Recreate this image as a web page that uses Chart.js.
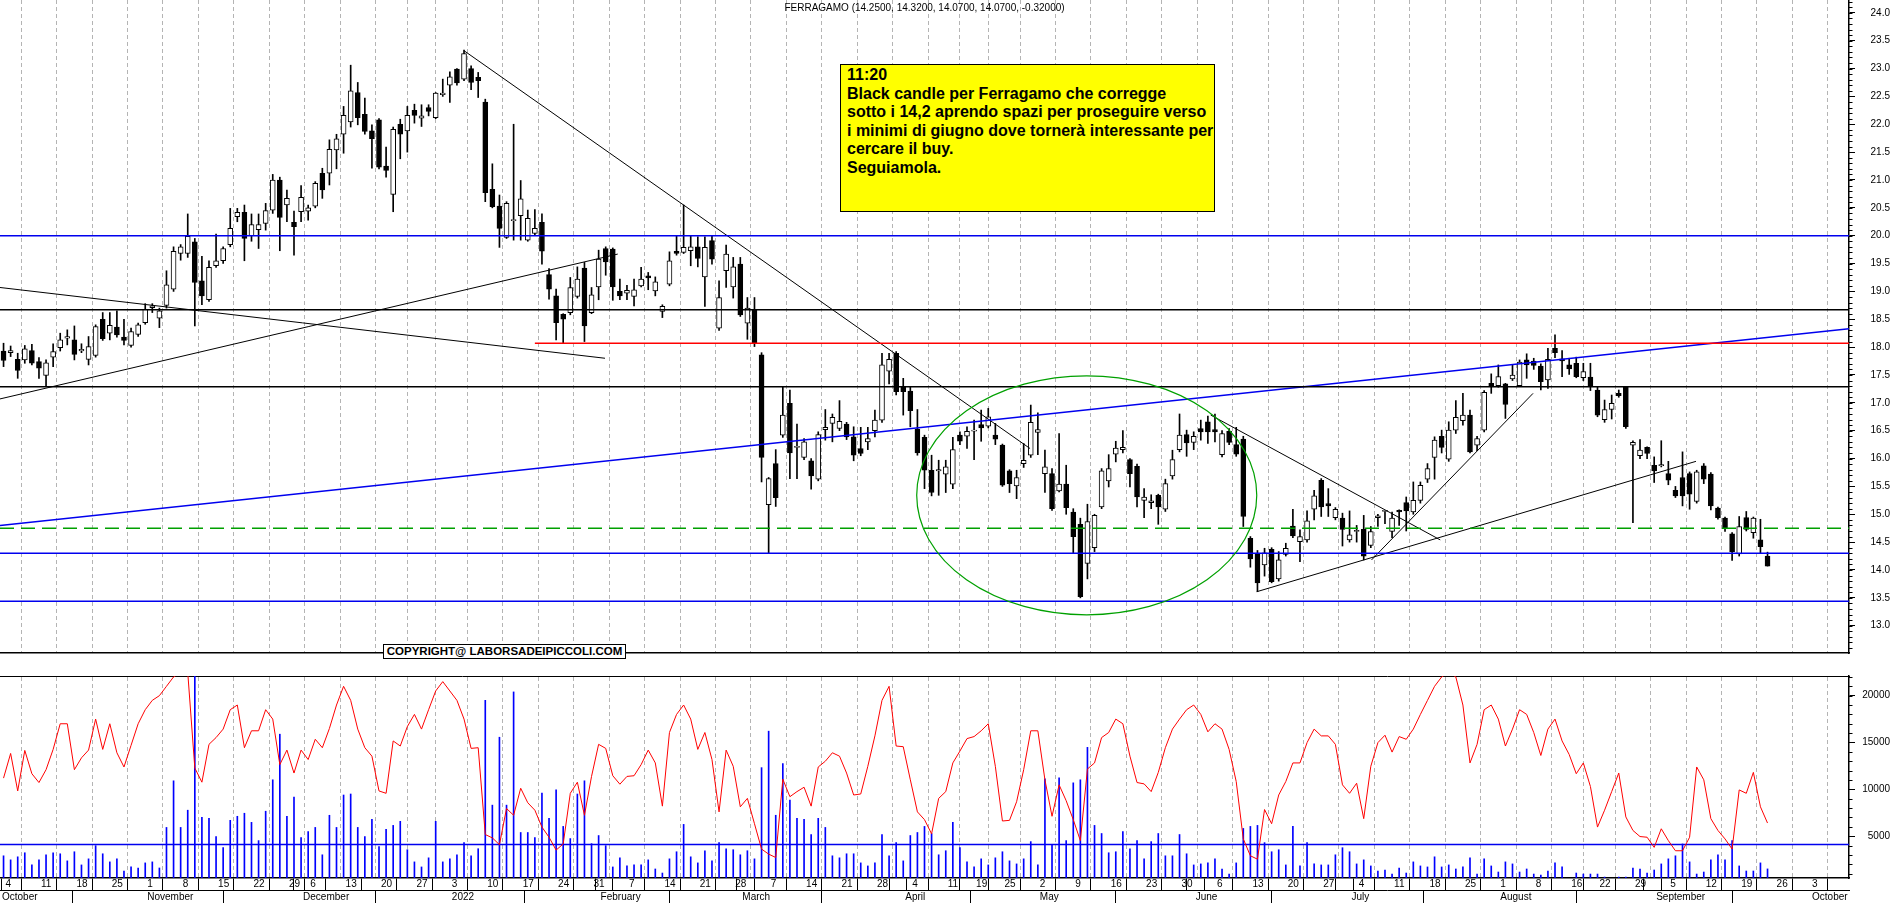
<!DOCTYPE html>
<html>
<head>
<meta charset="utf-8">
<title>Ferragamo</title>
<script src="https://cdn.jsdelivr.net/npm/chart.js@4.4.1/dist/chart.umd.min.js"></script>
<style>
  html, body { margin: 0; padding: 0; background: #fff; }
  #wrap { position: relative; width: 1890px; height: 903px; overflow: hidden; font-family: "Liberation Sans", Arial, sans-serif; }
  #priceChart { position: absolute; left: 0; top: 0; }
  #volChart { position: absolute; left: 0; top: 655px; }
  .title { position: absolute; left: 0; top: 2px; width: 1849px; text-align: center; font-size: 10px; color: #000; }
  .note { position: absolute; left: 840px; top: 64px; width: 375px; height: 148px; box-sizing: border-box;
          background: #ffff00; border: 1px solid #000; padding: 1px 0 0 6px;
          font-weight: bold; font-size: 16px; line-height: 18.5px; color: #000; }
  .copy { position: absolute; left: 383px; top: 644px; width: 243px; height: 15px; box-sizing: border-box;
          background: #fff; border: 1px solid #000; font-weight: bold; font-size: 11.5px; line-height: 13px;
          text-align: center; color: #000; }
</style>
</head>
<body>
<div id="wrap">
  <canvas id="priceChart" width="1890" height="655"></canvas>
  <canvas id="volChart" width="1890" height="248"></canvas>
  <div class="title">FERRAGAMO (14.2500, 14.3200, 14.0700, 14.0700, -0.32000)</div>
  <div class="note">11:20<br>Black candle per Ferragamo che corregge<br>sotto i 14,2 aprendo spazi per proseguire verso<br>i minimi di giugno dove tornerà interessante per<br>cercare il buy.<br>Seguiamola.</div>
  <div class="copy">COPYRIGHT@ LABORSADEIPICCOLI.COM</div>
</div>
<script>
// Sedute dal 4 ottobre 2021 al 23 settembre 2022 (indice = seduta)
const openP = [
  17.93,17.90,17.78,17.77,17.94,17.74,17.49,17.82,17.99,18.17,18.13,17.93,17.78,17.85,18.50,18.25,18.36,18.18,18.03,18.23,
  18.44,18.72,18.52,18.75,19.04,19.68,19.68,19.89,19.19,18.85,19.46,19.55,19.84,20.34,20.42,20.00,20.11,20.22,20.46,21.00,
  20.55,20.24,20.43,20.44,20.53,21.12,21.12,21.54,21.82,22.04,22.57,22.18,21.88,22.08,21.25,20.74,22.00,21.88,22.25,22.11,
  22.30,22.12,22.54,22.70,22.99,22.81,23.00,22.84,22.40,20.83,20.53,19.97,20.28,20.36,19.92,20.04,20.24,19.30,18.92,18.59,
  18.62,18.91,19.42,18.62,19.08,19.77,19.76,19.00,18.97,18.91,19.10,19.27,19.01,18.64,19.13,19.71,19.70,19.73,19.80,19.26,
  19.91,18.34,19.37,19.08,19.49,18.43,18.68,17.86,15.17,15.91,16.42,16.99,16.21,16.02,15.96,15.63,16.52,16.63,16.54,16.62,
  16.39,16.18,16.30,16.50,16.69,17.57,17.89,17.29,17.21,16.53,16.38,15.79,15.79,15.72,15.54,16.42,16.40,16.50,16.61,16.58,
  16.42,16.24,15.78,15.51,15.91,16.06,16.47,15.73,15.73,15.42,15.54,15.04,14.82,14.12,14.40,15.13,15.60,16.08,16.16,15.98,
  15.86,15.25,15.21,15.34,15.09,15.69,16.16,16.43,16.29,16.54,16.66,16.52,16.07,16.49,16.25,16.35,14.57,14.30,14.09,14.37,
  13.84,14.28,14.79,14.51,14.54,15.09,15.61,15.19,14.94,14.93,14.54,14.70,14.73,14.44,14.94,15.06,14.69,15.07,15.21,15.04,
  15.25,15.63,16.02,16.40,15.99,16.51,16.68,16.78,16.24,16.51,17.35,17.31,17.34,17.43,17.31,17.77,17.75,17.66,17.41,17.98,
  17.78,17.68,17.71,17.45,17.46,17.23,16.70,16.88,17.17,17.29,16.24,16.05,16.20,15.88,15.88,15.73,15.43,15.66,15.73,15.23,
  15.87,15.72,15.11,14.93,14.65,14.29,14.94,14.67,14.54,14.25
];
const highP = [
  18.07,18.02,17.89,18.03,18.05,17.81,17.77,18.06,18.25,18.31,18.38,18.06,18.19,18.40,18.62,18.62,18.65,18.50,18.34,18.43,
  18.78,18.78,18.70,19.37,19.80,19.84,20.39,19.95,19.63,19.55,20.03,19.80,20.49,20.49,20.55,20.39,20.39,20.58,21.10,21.05,
  20.82,20.44,20.90,20.55,20.97,21.21,21.72,21.82,22.32,23.06,22.75,22.47,21.99,22.10,21.59,21.95,22.09,22.32,22.36,22.35,
  22.35,22.57,22.81,22.94,23.00,23.33,23.05,22.93,22.45,21.29,20.73,20.61,22.00,20.99,20.46,20.47,20.39,19.41,19.04,18.60,
  19.25,19.44,19.52,19.07,19.74,19.80,19.78,19.22,19.11,19.22,19.43,19.34,19.26,18.76,19.71,19.99,20.55,19.99,19.98,19.98,
  19.99,19.19,19.83,19.61,19.61,18.89,18.89,17.90,15.66,16.16,17.29,17.23,16.62,16.36,16.00,16.48,16.88,16.80,17.04,16.65,
  16.57,16.56,16.56,16.87,17.89,17.89,17.92,17.44,17.29,16.88,16.42,16.06,15.97,15.97,16.38,16.48,16.57,16.69,16.87,16.90,
  16.63,16.26,15.80,15.79,16.27,16.96,16.82,16.15,15.82,16.45,15.88,15.10,14.93,15.18,15.00,15.82,16.07,16.31,16.50,16.00,
  15.90,15.46,15.35,15.36,15.63,16.15,16.80,16.51,16.48,16.69,16.76,16.80,16.50,16.54,16.56,16.40,14.60,14.35,14.39,14.40,
  14.33,14.48,15.09,14.72,15.06,15.43,15.64,15.46,15.12,15.02,15.06,14.80,14.98,14.78,15.00,15.07,15.04,15.08,15.31,15.58,
  15.58,15.91,16.39,16.51,16.66,17.04,17.17,16.87,16.40,17.22,17.52,17.68,17.35,17.68,17.77,17.88,17.80,17.70,17.98,18.22,
  17.94,17.80,17.82,17.71,17.71,17.29,17.05,17.14,17.23,17.29,16.32,16.34,16.21,16.03,16.32,15.95,15.50,16.12,15.76,15.79,
  15.91,15.75,15.13,14.95,14.67,14.96,15.05,14.95,14.91,14.32
];
const lowP = [
  17.65,17.83,17.44,17.71,17.68,17.44,17.29,17.65,17.93,18.04,17.77,17.90,17.68,17.82,18.12,18.13,18.18,18.04,18.00,18.19,
  18.41,18.62,18.35,18.70,19.00,19.56,19.61,18.38,18.76,18.82,19.43,19.50,19.80,20.25,19.55,19.90,19.77,20.10,20.40,19.73,
  20.25,19.65,20.25,20.28,20.50,20.67,20.91,21.20,21.48,21.95,21.99,21.82,21.21,21.20,21.05,20.43,21.38,21.50,22.02,21.96,
  22.15,22.10,22.50,22.39,22.70,22.78,22.62,22.48,20.61,20.50,19.79,19.95,19.92,19.92,19.90,20.00,19.49,18.86,18.13,18.08,
  18.58,18.88,18.10,18.60,18.85,19.29,18.84,18.85,18.85,18.74,19.08,19.03,18.92,18.53,19.10,19.65,19.68,19.46,19.44,18.73,
  19.49,18.30,19.07,18.88,18.55,18.14,18.01,15.58,14.30,15.14,16.38,15.64,15.64,15.98,15.45,15.60,16.33,16.30,16.50,16.34,
  15.96,16.05,16.16,16.39,16.65,17.34,17.14,16.78,16.57,16.06,15.46,15.33,15.34,15.39,15.46,16.25,16.18,15.98,16.31,16.55,
  16.25,15.50,15.39,15.28,15.84,16.02,16.07,15.39,15.07,15.40,15.00,14.31,13.50,13.84,14.33,15.10,15.49,15.94,16.10,15.49,
  15.13,14.94,15.10,14.82,15.05,15.63,16.12,16.04,16.16,16.33,16.27,16.30,16.03,16.25,16.04,14.78,14.05,13.61,13.89,13.77,
  13.80,14.25,14.58,14.15,14.50,14.90,14.96,14.96,14.90,14.43,14.50,14.50,14.18,14.40,14.78,14.83,14.58,14.80,14.70,15.00,
  15.20,15.57,15.63,16.10,15.95,16.45,16.60,16.10,16.14,16.48,17.17,17.28,16.72,17.40,17.30,17.44,17.60,17.23,17.26,17.81,
  17.47,17.51,17.45,17.40,17.22,16.75,16.65,16.71,17.10,16.54,14.85,16.00,16.00,15.57,15.85,15.53,15.30,15.15,15.09,15.20,
  15.55,15.08,14.91,14.69,14.17,14.25,14.70,14.57,14.31,14.07
];
const closeP = [
  17.76,17.94,17.58,17.97,17.71,17.62,17.72,17.92,18.13,18.18,17.87,17.96,18.01,18.37,18.15,18.39,18.22,18.12,18.28,18.40,
  18.68,18.73,18.65,19.12,19.72,19.80,19.99,19.16,18.92,19.43,19.55,19.77,20.13,20.42,19.95,20.20,20.20,20.45,21.00,20.33,
  20.67,20.16,20.69,20.50,20.94,20.82,21.55,21.74,22.16,22.60,22.12,21.87,21.74,21.23,21.17,21.91,21.82,22.16,22.16,22.15,
  22.23,22.56,22.55,22.85,22.74,23.27,22.75,22.78,20.77,20.52,20.13,20.58,20.28,20.66,20.31,20.13,19.72,19.04,18.44,18.50,
  19.07,19.22,18.38,18.94,19.58,19.53,19.08,18.92,19.02,19.03,19.22,19.25,19.17,18.73,19.55,19.69,19.79,19.80,19.59,19.79,
  19.58,18.89,19.67,19.44,18.58,18.70,18.06,16.02,15.64,15.30,16.78,16.10,16.21,16.30,15.69,16.43,16.56,16.74,16.67,16.39,
  16.06,16.09,16.36,16.69,17.68,17.78,17.20,17.20,16.86,16.10,15.79,15.39,15.79,15.85,16.16,16.31,16.49,16.50,16.55,16.75,
  16.35,15.52,15.55,15.66,15.97,16.65,16.52,15.85,15.10,15.54,15.12,14.60,13.52,14.87,14.98,15.78,15.82,16.19,16.20,15.73,
  15.31,15.31,15.24,15.13,15.55,15.98,16.42,16.28,16.40,16.48,16.48,16.48,16.45,16.29,16.08,14.96,14.20,13.77,14.31,13.79,
  14.18,14.39,14.61,14.60,14.88,15.33,15.13,15.15,15.09,14.73,14.63,14.70,14.25,14.69,14.97,15.06,14.93,15.04,15.06,15.25,
  15.52,15.82,16.33,16.20,16.51,16.74,16.78,16.12,16.36,17.19,17.31,17.47,16.97,17.50,17.73,17.68,17.67,17.38,17.78,17.90,
  17.76,17.61,17.47,17.56,17.29,16.78,16.88,16.99,17.13,16.57,16.29,16.15,16.09,15.78,15.88,15.61,15.33,15.33,15.36,15.76,
  15.63,15.15,14.94,14.75,14.33,14.78,14.73,14.93,14.42,14.07
];
// Volumi (scala x100) e linea rossa del pannello inferiore
const volume = [
  2900,2467,2792,3225,1926,2467,3008,3225,3116,2359,3333,1926,2575,3982,3116,2251,2575,1277,1710,1601,
  2143,2251,1601,5930,10908,5930,7770,22500,7012,6904,4956,3766,6688,7120,7445,6471,4523,7661,11016,15886,
  7120,9176,4848,5497,5930,3008,7229,5930,9392,9500,5930,4956,6796,3874,5714,6146,6579,3549,2251,1710,
  2684,6579,2251,2575,3008,4307,2900,3657,19500,8311,15562,8311,20400,5389,5389,4848,9608,6904,9933,6038,
  4740,9500,10908,4199,5064,3982,1710,2684,1818,
  1926,1926,2467,1493,1060,2575,3333,6254,2792,2143,3441,2359,4307,3657,3549,3008,3441,2575,12314,16210,
  7229,12747,8852,6904,6796,5172,6904,5930,2900,2684,3116,3116,2143,1818,2143,5172,2900,4307,2359,5064,
  5389,6038,5281,3008,3441,6471,3766,2251,1710,2575,1926,2684,3333,2359,2034,2575,4415,1926,11124,4090,
  11232,4523,10692,11016,14480,6146,5281,3225,3333,5497,3657,4523,2575,4415,5281,2900,2900,5172,3116,1926,
  2034,2143,2575,1493,952,2143,5822,6038,6146,
  4307,3333,3549,1926,6038,1818,4307,2034,1926,1926,3008,3766,3333,2034,2467,1818,1277,1385,952,1601,
  1060,2251,1818,1710,2792,1710,1926,1493,1710,2684,952,2575,1818,1169,2251,2034,1169,1493,952,844,
  1277,2143,1710,483,1060,952,952,952,628,411,628,628,1601,1493,1060,1385,2034,2575,2900,4163,
  2251,952,1169,2467,3008,2467,4523,1818,1277,1277,2143,1500
];
const redLine = [
  11196,13830,9826,14154,11665,10724,12096,14262,17000,17000,12096,13359,14189,17500,14262,17000,13902,12386,14695,17000,
  18500,19500,20000,21000,22000,22500,22500,12277,10760,14803,15525,16430,18500,19000,14443,16250,16250,18500,17500,12638,
  14189,11737,14189,13179,15344,14443,16500,19000,21000,19500,16430,14443,13540,9826,9574,15165,14623,16700,18000,16430,
  18500,20500,21500,20500,19500,17500,14371,14443,5172,4812,4090,7950,7229,10115,8564,7770,5966,4884,3513,4163,
  9574,10760,7229,11377,14803,14371,11449,10547,11377,
  11449,12638,14189,12818,8203,16066,18000,19000,17500,14262,16066,13179,7590,14189,12458,8131,9033,6327,3621,3080,
  2720,11080,9214,9754,10223,8203,12386,12999,13902,13540,11737,9394,9502,12458,15705,19500,21000,14623,14551,11016,
  7590,6760,5245,9033,9754,12818,14082,15417,15633,16250,17000,12458,6615,6688,8672,12096,16250,16250,11016,7120,
  10476,8780,6760,4523,12170,12818,15525,16066,17500,17000,13540,10724,10580,9754,11809,14443,16430,17500,18500,19000,
  18000,16138,17000,16430,14262,10832,4704,2900,2539,
  7842,6327,9394,10832,12818,12818,14984,16430,15705,15705,14803,10476,9574,10652,6868,12458,14984,15777,13974,15633,
  15344,16430,18000,19500,21000,22000,22500,22000,19000,12818,14803,18500,19000,17500,14623,16430,18500,18000,16066,13613,
  16430,17500,15165,13721,11665,12818,10296,5966,7770,9754,11737,7049,5606,4956,4884,3802,5786,4523,3441,3441,
  4884,12386,11016,6868,5606,4704,3621,9934,9574,11809,8131,6399
];

// Asse dei tempi: griglia settimanale, etichette dei giorni e dei mesi
const weekStarts = [0,5,10,15,20,25,30,35,40,45,50,55,59,63,68,73,78,83,88,93,98,103,108,113,118,123,128,133,137,141,
  146,151,156,161,166,171,176,181,186,191,196,201,206,211,216,221,225,230,235,240,245,250,255,260];
const dayTickPos = [0,5,10,15,20,25,30,35,40,43,48,53,58,63,68,73,78,83,88,93,98,103,108,113,118,123,128,133,137,141,
  146,151,156,161,166,171,176,181,186,191,196,201,206,211,216,221,225,230,235,240,245,250,255,260];
const dayNames = ['4','11','18','25','1','8','15','22','29','6','13','20','27','3','10','17','24','31','7','14','21','28',
  '7','14','21','28','4','11','19','25','2','9','16','23','30','6','13','20','27','4','11','18','25','1','8','16','22','29',
  '5','12','19','26','3',''];
const monthStarts = [-0.5,20,42,63,84,104,127,146,168,190,211,233,255];
const monthNames = ['October','November','December','2022','February','March','April','May','June','July','August','September','October'];
const priceTicks = [13.0,13.5,14.0,14.5,15.0,15.5,16.0,16.5,17.0,17.5,18.0,18.5,19.0,19.5,20.0,20.5,21.0,21.5,22.0,22.5,23.0,23.5,24.0];
const volTicks = [5000,10000,15000,20000];

// Livelli orizzontali e trendline (indice seduta, prezzo)
const blueLevels = [20.0, 14.30, 13.44];
const blackLevels = [18.67, 17.29];
const greenLevel = 14.75;
const redLevel = { from: 75.0, value: 18.07 };
const blueTrend = [[-0.5, 14.80], [260.5, 18.33]];
const blackTrends = [
  [[-0.5, 19.07], [84.9, 17.80]],
  [[-0.5, 17.07], [86.7, 19.67]],
  [[65.0, 23.32], [144.9, 16.18]],
  [[170.4, 16.78], [202.8, 14.54]],
  [[176.9, 13.61], [238.9, 15.95]],
  [[193.1, 14.18], [215.9, 17.17]]
];
const ellipseCenter = [152.9, 15.34];
const ellipseRadius = [24.0, 2.145];
const volLevel = 4100;

const X_MIN = -0.5, X_MAX = 260.5;
const AXIS_W = 41;

Chart.defaults.font.family = '"Liberation Sans", Arial, sans-serif';
Chart.defaults.font.size = 10;
Chart.defaults.color = '#000';

function zeroPad(scale) {
  scale.paddingLeft = 0; scale.paddingRight = 0; scale.paddingTop = 0; scale.paddingBottom = 0;
}
function fixWidth(scale) {
  scale.width = AXIS_W;
  zeroPad(scale);
}
function rowHeight(h) {
  return scale => { zeroPad(scale); scale.height = h; };
}
function seg(a, b, color, width, dash) {
  return {
    type: 'line', data: [{x: a[0], y: a[1]}, {x: b[0], y: b[1]}],
    borderColor: color, borderWidth: width, borderDash: dash || [],
    pointRadius: 0, fill: false, tension: 0, order: 0
  };
}

// Tacche secondarie sull'asse destro
const minorTicks = {
  id: 'minorTicks',
  afterDraw(chart, args, opts) {
    const s = chart.scales.y;
    const ctx = chart.ctx;
    ctx.save();
    ctx.strokeStyle = '#000';
    ctx.lineWidth = 1;
    ctx.beginPath();
    for (let k = Math.ceil(s.min / opts.step); k * opts.step <= s.max; k++) {
      const y = Math.round(s.getPixelForValue(k * opts.step)) + 0.5;
      ctx.moveTo(s.left, y);
      ctx.lineTo(s.left + 3.5, y);
    }
    ctx.stroke();
    ctx.restore();
  }
};

// Ellisse verde disegnata con le scale del grafico
const ellipsePlugin = {
  id: 'ellipse',
  afterDatasetsDraw(chart) {
    const {x, y} = chart.scales;
    const ctx = chart.ctx;
    const cx = x.getPixelForValue(ellipseCenter[0]);
    const cy = y.getPixelForValue(ellipseCenter[1]);
    const rx = x.getPixelForValue(ellipseCenter[0] + ellipseRadius[0]) - cx;
    const ry = cy - y.getPixelForValue(ellipseCenter[1] + ellipseRadius[1]);
    ctx.save();
    ctx.strokeStyle = '#00a000';
    ctx.lineWidth = 1.2;
    ctx.beginPath();
    ctx.ellipse(cx, cy, rx, ry, 0, 0, Math.PI * 2);
    ctx.stroke();
    ctx.restore();
  }
};

const dayTickValues = Array.from(new Set(dayTickPos.concat(monthStarts))).sort((a, b) => a - b);
const dayLabelOf = {};
dayTickPos.forEach((v, k) => { dayLabelOf[v] = dayNames[k]; });

const weekGrid = {
  type: 'linear', min: X_MIN, max: X_MAX, offset: false,
  afterBuildTicks: s => { s.ticks = weekStarts.map(v => ({value: v})); },
  afterFit: zeroPad,
  ticks: { display: false },
  grid: { drawOnChartArea: true, drawTicks: false, color: '#b4b4b4', lineWidth: 1 },
  border: { display: true, color: '#000', dash: [4, 3] }
};

// ---- Grafico prezzi (candele) ----
const wicks = closeP.map((c, i) => ({x: i, y: [lowP[i], highP[i]]}));
const bodies = closeP.map((c, i) => {
  let lo = Math.min(openP[i], c), hi = Math.max(openP[i], c);
  if (hi - lo < 0.02) { lo -= 0.01; hi += 0.01; }
  return {x: i, y: [lo, hi]};
});
const bodyColors = closeP.map((c, i) => c >= openP[i] ? '#ffffff' : '#000000');

const lineSets = [];
blueLevels.forEach(v => lineSets.push(seg([X_MIN, v], [X_MAX, v], '#0000ee', 1.5)));
blackLevels.forEach(v => lineSets.push(seg([X_MIN, v], [X_MAX, v], '#000000', 1.5)));
lineSets.push(seg([X_MIN, greenLevel], [X_MAX, greenLevel], '#00a000', 1.6, [14, 7]));
lineSets.push(seg([redLevel.from, redLevel.value], [X_MAX, redLevel.value], '#ff0000', 1.5));
lineSets.push(seg(blueTrend[0], blueTrend[1], '#0000ee', 1.5));
blackTrends.forEach(t => lineSets.push(seg(t[0], t[1], '#000000', 1)));

new Chart(document.getElementById('priceChart'), {
  type: 'bar',
  data: {
    datasets: lineSets.concat([
      { type: 'bar', data: bodies, backgroundColor: bodyColors, borderColor: '#000', borderWidth: 1,
        borderSkipped: false, barThickness: 5, grouped: false, order: 1 },
      { type: 'bar', data: wicks, backgroundColor: '#000', borderWidth: 0,
        barThickness: 1, grouped: false, order: 2 }
    ])
  },
  options: {
    responsive: false,
    animation: false,
    events: [],
    devicePixelRatio: 1,
    layout: { padding: { top: 0, bottom: 2, left: 0, right: 0 } },
    plugins: { legend: { display: false }, tooltip: { enabled: false }, minorTicks: { step: 0.1 } },
    scales: {
      x: Object.assign({}, weekGrid, { position: 'bottom', border: { display: true, color: '#000', width: 1.5, dash: [4, 3] } }),
      y: {
        type: 'linear', position: 'right', min: 12.51, max: 24.23,
        afterBuildTicks: s => { s.ticks = priceTicks.map(v => ({value: v})); },
        afterFit: fixWidth,
        ticks: { autoSkip: false, padding: 13, crossAlign: 'far', callback: v => Number(v).toFixed(1) },
        grid: { drawOnChartArea: false, drawTicks: true, tickLength: 6, tickColor: '#000' },
        border: { display: true, color: '#000', width: 1.5 }
      }
    }
  },
  plugins: [minorTicks, ellipsePlugin]
});

// ---- Pannello volumi ----
new Chart(document.getElementById('volChart'), {
  type: 'bar',
  data: {
    datasets: [
      { type: 'line', data: redLine.map((v, i) => ({x: i, y: v})), borderColor: '#ff0000', borderWidth: 1,
        pointRadius: 0, fill: false, tension: 0, order: 0 },
      seg([X_MIN, volLevel], [X_MAX, volLevel], '#0000ee', 1.5),
      { type: 'bar', data: volume.map((v, i) => ({x: i, y: v})), backgroundColor: '#0000ff', borderWidth: 0,
        barThickness: 1, grouped: false, order: 1 }
    ]
  },
  options: {
    responsive: false,
    animation: false,
    events: [],
    devicePixelRatio: 1,
    layout: { padding: { top: 21, bottom: 0, left: 0, right: 0 } },
    plugins: { legend: { display: false }, tooltip: { enabled: false }, minorTicks: { step: 1000 } },
    scales: {
      x: {
        type: 'linear', position: 'bottom', min: X_MIN, max: X_MAX, offset: false,
        afterBuildTicks: s => { s.ticks = dayTickValues.map(v => ({value: v})); },
        afterFit: rowHeight(12),
        ticks: { autoSkip: false, maxRotation: 0, minRotation: 0, align: 'start', labelOffset: 2, padding: -12,
                 callback: v => dayLabelOf[v] || '' },
        grid: { drawOnChartArea: false, drawTicks: true, tickLength: 12, color: '#000', tickColor: '#000', lineWidth: 1 },
        border: { display: true, color: '#000', width: 1.5 }
      },
      x2: {
        type: 'linear', position: 'bottom', min: X_MIN, max: X_MAX, offset: false,
        afterBuildTicks: s => { s.ticks = monthStarts.map(v => ({value: v})); },
        afterFit: rowHeight(13),
        ticks: { autoSkip: false, maxRotation: 0, minRotation: 0, align: 'start', labelOffset: 2, padding: -12,
                 callback: (v, k) => monthNames[k] },
        grid: { drawOnChartArea: false, drawTicks: true, tickLength: 13, color: '#000', tickColor: '#000' },
        border: { display: true, color: '#000', width: 1 }
      },
      xTop: Object.assign({}, weekGrid, { position: 'top', border: { display: true, color: '#000', width: 1, dash: [4, 3] } }),
      y: {
        type: 'linear', position: 'right', min: 530, max: 22100,
        afterBuildTicks: s => { s.ticks = volTicks.map(v => ({value: v})); },
        afterFit: fixWidth,
        ticks: { autoSkip: false, padding: 5, crossAlign: 'far', callback: v => String(v) },
        grid: { drawOnChartArea: false, drawTicks: true, tickLength: 6, tickColor: '#000' },
        border: { display: true, color: '#000', width: 1.5 }
      }
    }
  },
  plugins: [minorTicks]
});
</script>
</body>
</html>
